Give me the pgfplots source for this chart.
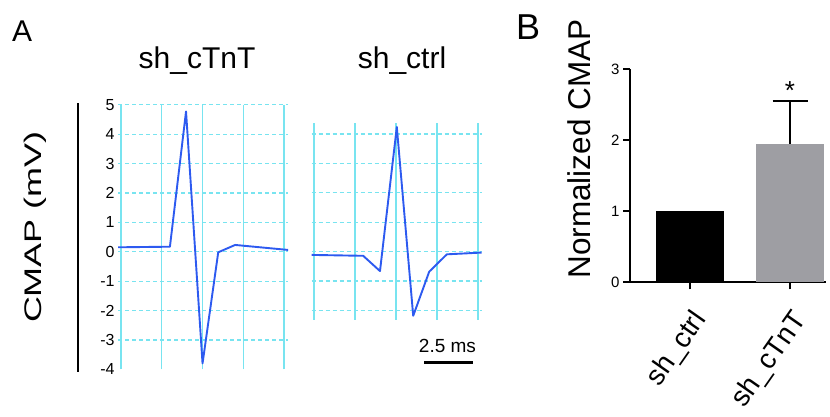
\documentclass[border=0pt]{standalone}
\usepackage{fontspec}
\setmainfont{Liberation Sans}
\usepackage{pgfplots}
\pgfplotsset{compat=1.18}

\definecolor{gridc}{RGB}{120,228,240}
\definecolor{trace}{RGB}{45,90,240}
\definecolor{bargray}{RGB}{158,158,163}
\newcommand{\fs}[1]{\fontsize{#1}{#1}\selectfont}

\pgfplotsset{
  trace panel/.style={
    scale only axis, anchor=south west,
    axis line style={draw=none},
    major tick length=0pt,
    xtick={0,...,4}, xticklabels={},
    xmajorgrids, x grid style={gridc, line width=1.2pt},
    y grid style={gridc, line width=1.2pt, dash pattern=on 4pt off 3pt},
    tick label style={font=\fs{16}},
    /pgf/number format/assume math mode=true,
  }
}

\begin{document}
\begin{tikzpicture}
\path[use as bounding box] (0,0) rectangle (830pt,416pt);

% ---- A, sh_cTnT
\begin{axis}[trace panel,
  at={(118.15pt,46.7pt)}, width=170pt, height=264.6pt,
  xmin=-0.07, xmax=4.1, ymin=-4, ymax=5,
  ytick={-4,...,5},
  extra y ticks={-3,...,5}, extra y tick labels={},
  extra y tick style={grid=major},
]
\addplot[trace, line width=1.9pt, line join=round] coordinates {
  (-0.07,0.15) (1.2,0.17) (1.595,4.77) (2.0,-3.8) (2.385,-0.02) (2.8,0.23) (4.1,0.06)
};
\end{axis}

% ---- A, sh_ctrl
\begin{axis}[trace panel,
  at={(311.5pt,96.1pt)}, width=170.2pt, height=197.3pt,
  xmin=-0.06, xmax=4.09, ymin=-2.32, ymax=4.39,
  ytick={-2,...,4}, yticklabels={},
  ymajorgrids,
]
\addplot[trace, line width=1.9pt, line join=round] coordinates {
  (-0.06,-0.11) (1.2,-0.14) (1.61,-0.66) (2.02,4.24) (2.42,-2.18) (2.81,-0.68) (3.24,-0.09) (4.09,-0.03)
};
\end{axis}

\node[font=\fs{30}, anchor=base west, inner sep=0pt] at (12pt,374pt) {A};
\node[font=\fs{30}, anchor=base] at (197pt,347pt) {sh\_cTnT};
\node[font=\fs{30}, anchor=base] at (402pt,347pt) {sh\_ctrl};
\node[rotate=90] at (35.5pt,189pt) {\scalebox{1.5}[1]{\fs{24}CMAP (mV)}};
\draw[line width=2.5pt] (78pt,313pt) -- (78pt,44pt);
\draw[line width=3pt] (424pt,53.3pt) -- (473pt,53.3pt);
\node[font=\fs{19}, anchor=base] at (447.5pt,64pt) {2.5 ms};

% ---- B
\begin{axis}[
  at={(630pt,133.7pt)}, anchor=south west,
  scale only axis, width=196pt, height=213pt,
  xmin=-0.6, xmax=1.36, ymin=0, ymax=3,
  axis x line*=bottom, axis y line*=left,
  axis line style={line width=2pt},
  tick style={line width=2pt, black}, tick align=outside, major tick length=7pt,
  xtick={0,1}, xticklabels={sh\_ctrl, sh\_cTnT},
  ytick={0,1,2,3},
  xticklabel style={font=\fs{28}, inner sep=0pt, xshift=17pt, yshift=-30pt,
    rotate=55, anchor=base east},
  yticklabel style={font=\fs{15}},
  /pgf/number format/assume math mode=true,
  clip=false,
]
\addplot[ybar, bar width=68pt, bar shift=0pt, fill=black, draw=none] coordinates {(0,1)};
\addplot[ybar, bar width=68pt, bar shift=0pt, fill=bargray, draw=none,
  error bars/.cd, y dir=plus, y explicit,
  error bar style={line width=2pt, black},
  error mark options={rotate=90, mark size=17.5pt, line width=2pt, black}]
  coordinates {(1,1.95) +- (0,0.61)};
\node[font=\fs{26}, anchor=base] at (axis cs:1,2.575) {*};
\end{axis}

\node[font=\fs{36}, anchor=base west, inner sep=0pt] at (516pt,376pt) {B};
\node[rotate=90, font=\fs{31.5}, anchor=base] at (590pt,267pt) {Normalized CMAP};

\end{tikzpicture}
\end{document}
